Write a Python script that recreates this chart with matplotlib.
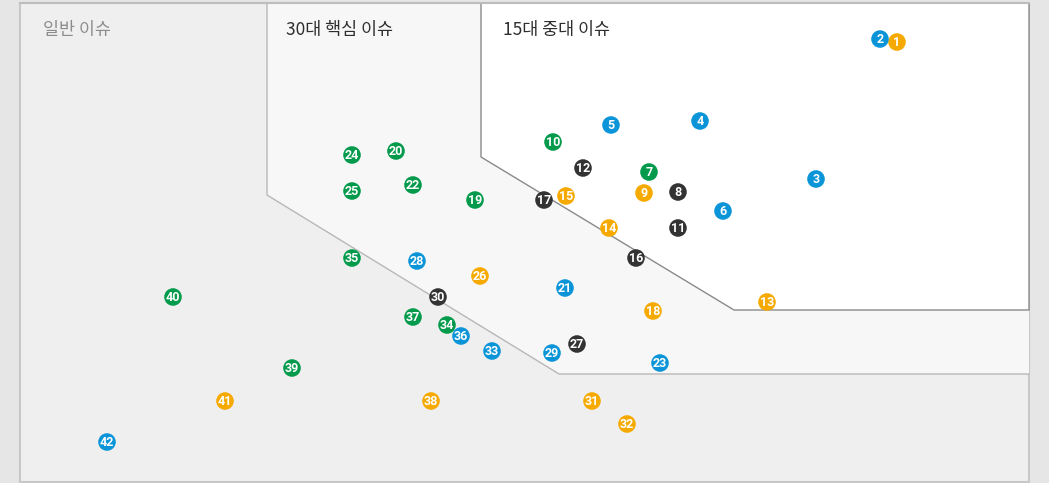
import matplotlib.pyplot as plt
from matplotlib.patches import Polygon

# issue numbers, position on the matrix (x to the right, y downward) and group
issue_no = list(range(1, 43))
issue_x = [897, 880, 816, 700, 611, 723, 649, 678, 644, 553,
           678, 583, 767, 609, 566, 636, 544, 653, 475, 396,
           565, 413, 660, 352, 352, 480, 577, 417, 552, 438,
           592, 627, 492, 447, 352, 461, 413, 431, 292, 173,
           225, 107]
issue_y = [42, 39, 179, 121, 125, 211, 172, 192, 193, 142,
           228, 168, 302, 228, 196, 258, 200, 311, 200, 151,
           288, 185, 363, 155, 191, 276, 344, 261, 353, 297,
           401, 424, 351, 325, 258, 336, 317, 401, 368, 297,
           401, 442]
issue_group = ['o', 'b', 'b', 'b', 'b', 'b', 'g', 'k', 'o', 'g',
               'k', 'k', 'o', 'o', 'o', 'k', 'k', 'o', 'g', 'g',
               'b', 'g', 'b', 'g', 'g', 'o', 'k', 'b', 'b', 'k',
               'o', 'o', 'b', 'g', 'g', 'b', 'g', 'o', 'g', 'g',
               'o', 'b']

zone_titles = ['일반 이슈', '30대 핵심 이슈', '15대 중대 이슈']

group_colors = {'b': '#0b95d8', 'o': '#f6aa00', 'g': '#039a4c', 'k': '#333333'}

W, H = 1049, 483
fig = plt.figure(figsize=(W / 100, H / 100), dpi=100, facecolor='#e6e6e6')
ax = fig.add_axes([0, 0, 1, 1])
ax.set_xlim(0, W)
ax.set_ylim(H, 0)
ax.axis('off')

# zone backgrounds
general = Polygon([(20, 3), (1029, 3), (1029, 482), (20, 482)], closed=True,
                  facecolor='#efefef', edgecolor='#c8c8c8', lw=1.5, zorder=1)
core30 = Polygon([(267, 3), (1029, 3), (1029, 374), (559, 374), (267, 195)],
                 closed=True, facecolor='#f7f7f7', edgecolor='none', zorder=2)
major15 = Polygon([(481, 3), (1029, 3), (1029, 310), (734, 310), (481, 157)],
                  closed=True, facecolor='white', edgecolor='none', zorder=3)
for p in (general, core30, major15):
    ax.add_patch(p)

ax.plot([267, 267, 559, 1029], [3, 195, 374, 374], color='#b8b8b8', lw=1.0, zorder=4)
ax.plot([481, 481, 734, 1029, 1029], [3, 157, 310, 310, 3], color='#8a8a8a', lw=1.0, zorder=4)
ax.plot([20, 1029], [3, 3], color='#bdbdbd', lw=1.5, zorder=4)

title_font = ['Noto Sans CJK KR', 'DejaVu Sans']
ax.text(43, 30, zone_titles[0], fontsize=12.5, color='#8c8c8c', fontweight='medium',
        family=title_font, va='center', ha='left', zorder=5)
ax.text(286, 30, zone_titles[1], fontsize=12.5, color='#2e2e2e', fontweight='medium',
        family=title_font, va='center', ha='left', zorder=5)
ax.text(503, 30, zone_titles[2], fontsize=12.5, color='#2e2e2e', fontweight='medium',
        family=title_font, va='center', ha='left', zorder=5)

# numbered issue markers
colors = [group_colors[g] for g in issue_group]
ax.scatter(issue_x, issue_y, s=160, c=colors, edgecolors='none', zorder=6)
for n, x, y in zip(issue_no, issue_x, issue_y):
    ax.text(x, y + 0.5, str(n), color='white', fontsize=9, fontweight='bold',
            family=['Roboto', 'DejaVu Sans'],
            ha='center', va='center', zorder=7)

fig.savefig('out.png', dpi=100, facecolor=fig.get_facecolor())
